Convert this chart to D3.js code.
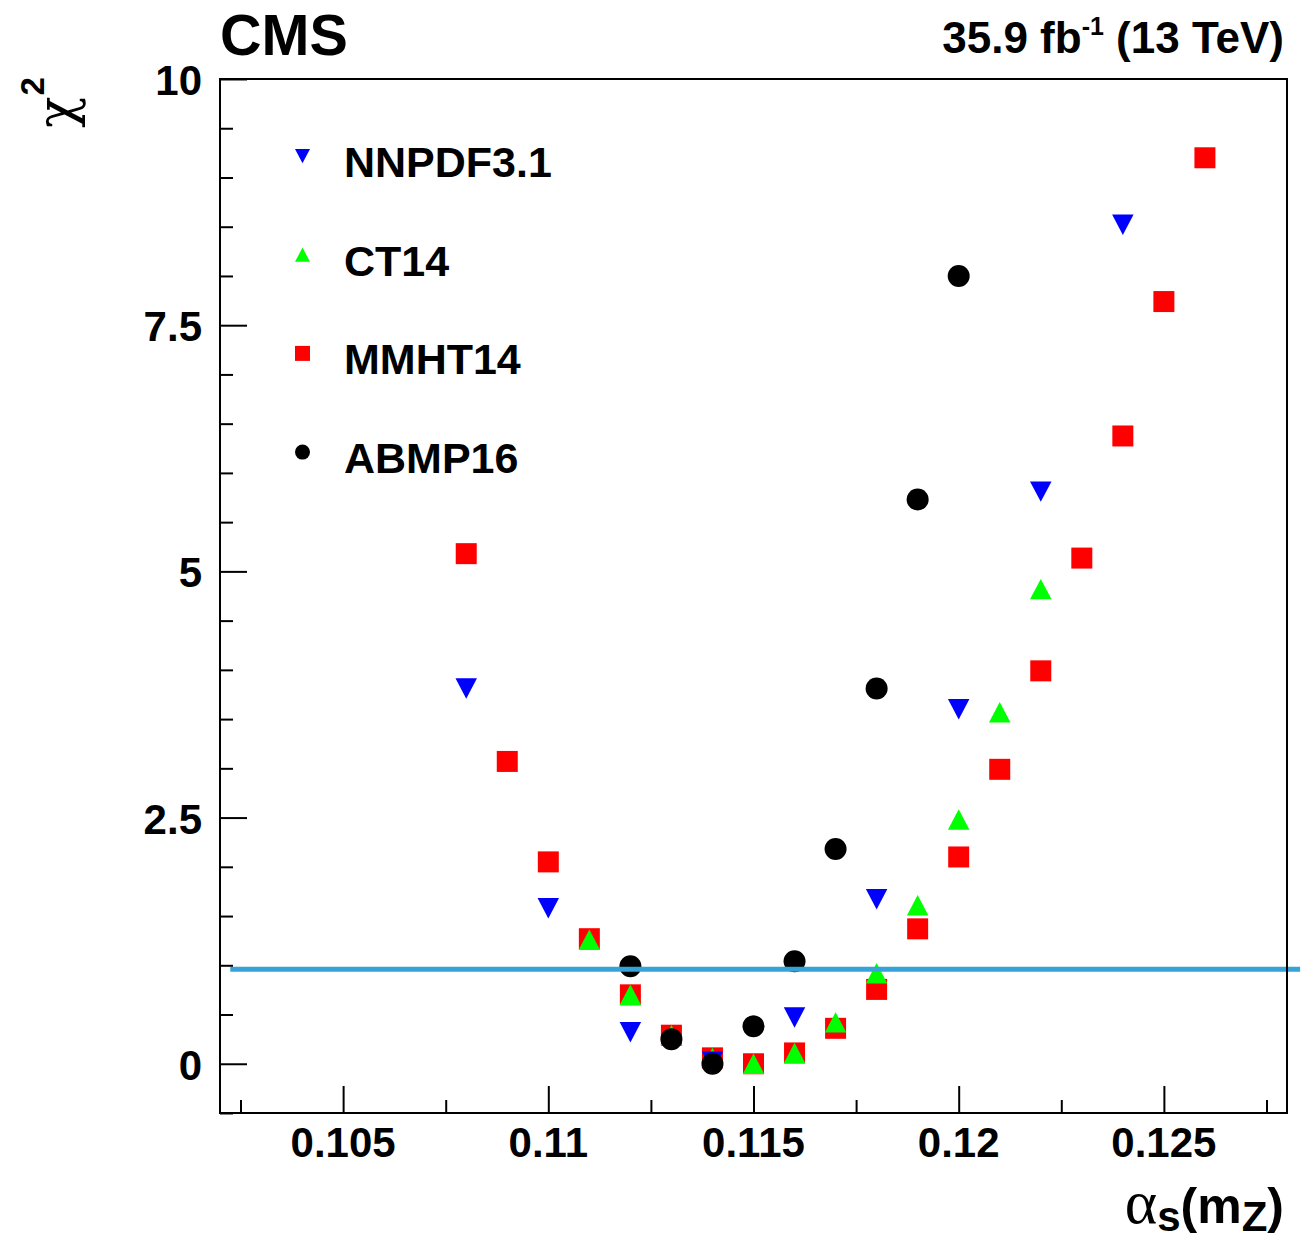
<!DOCTYPE html>
<html>
<head>
<meta charset="utf-8">
<script src="https://cdn.jsdelivr.net/npm/d3@7"></script>
<style>
  html, body { margin: 0; padding: 0; background: #fff; }
  svg { display: block; }
  text { font-family: "Liberation Sans", Arial, Helvetica, sans-serif; font-weight: bold; fill: #000; }
</style>
</head>
<body>
<svg id="chart" width="1309" height="1241"></svg>
<script>
// alpha_s(m_Z) scan points and chi^2 for each PDF set
const nnpdfAlpha = [0.108, 0.110, 0.112, 0.114, 0.116, 0.118, 0.120, 0.122, 0.124];
const nnpdfChi2  = [3.81, 1.58, 0.32, 0.02, 0.47, 1.67, 3.60, 5.81, 8.52];

const ct14Alpha = [0.111, 0.112, 0.113, 0.114, 0.115, 0.116, 0.117, 0.118, 0.119, 0.120, 0.121, 0.122];
const ct14Chi2  = [1.26, 0.70, 0.29, 0.06, 0.00, 0.11, 0.42, 0.92, 1.61, 2.48, 3.57, 4.82];

const mmhtAlpha = [0.108, 0.109, 0.110, 0.111, 0.112, 0.113, 0.114, 0.115, 0.116, 0.117,
                   0.118, 0.119, 0.120, 0.121, 0.122, 0.123, 0.124, 0.125, 0.126];
const mmhtChi2  = [5.18, 3.07, 2.05, 1.27, 0.70, 0.29, 0.06, 0.00, 0.11, 0.36,
                   0.755, 1.37, 2.10, 2.99, 3.99, 5.135, 6.375, 7.74, 9.20];

const abmpAlpha = [0.112, 0.113, 0.114, 0.115, 0.116, 0.117, 0.118, 0.119, 0.120];
const abmpChi2  = [0.99, 0.25, 0.00, 0.38, 1.04, 2.18, 3.81, 5.73, 8.00];

// reference level drawn across the plot
const refLevel = 0.96;
const refFrom = 0.10225, refTo = 0.12832;

// axis ranges and tick labels
const xDomain = [0.102, 0.128];
const yDomain = [-0.5, 10];
const xMajorTicks = [0.105, 0.110, 0.115, 0.120, 0.125];
const xTickLabels = ["0.105", "0.11", "0.115", "0.12", "0.125"];
const xMinorTicks = [0.1025, 0.1075, 0.1125, 0.1175, 0.1225, 0.1275];
const yMajorTicks = [0, 2.5, 5, 7.5, 10];
const yTickLabels = ["0", "2.5", "5", "7.5", "10"];
const yMinorTicks = [0.5, 1, 1.5, 2, 3, 3.5, 4, 4.5, 5.5, 6, 6.5, 7, 8, 8.5, 9, 9.5, -0.5];

const legendNames = ["NNPDF3.1", "CT14", "MMHT14", "ABMP16"];

// ---------------------------------------------------------------
const svg = d3.select("#chart");
const frame = { left: 220, right: 1287, top: 79, bottom: 1113 };

const x = d3.scaleLinear().domain(xDomain).range([frame.left, frame.right]);
const y = d3.scaleLinear().domain(yDomain).range([frame.bottom, frame.top]);

// marker shapes, centred on their bounding box
const triDown = {
  draw(ctx, size) {
    const w = Math.sqrt(size), h = w * 0.95;
    ctx.moveTo(-w / 2, -h / 2); ctx.lineTo(w / 2, -h / 2); ctx.lineTo(0, h / 2); ctx.closePath();
  }
};
const triUp = {
  draw(ctx, size) {
    const w = Math.sqrt(size), h = w * 0.95;
    ctx.moveTo(-w / 2, h / 2); ctx.lineTo(w / 2, h / 2); ctx.lineTo(0, -h / 2); ctx.closePath();
  }
};
const square = {
  draw(ctx, size) {
    const w = Math.sqrt(size);
    ctx.rect(-w / 2, -w / 2, w, w);
  }
};
const circle = {
  draw(ctx, size) {
    const r = Math.sqrt(size) / 2;
    ctx.moveTo(r, 0); ctx.arc(0, 0, r, 0, 2 * Math.PI);
  }
};

const series = [
  { name: legendNames[2], a: mmhtAlpha,  c: mmhtChi2,  type: square,  color: "#ff0000", size: 21 },
  { name: legendNames[1], a: ct14Alpha,  c: ct14Chi2,  type: triUp,   color: "#00ff00", size: 21.5 },
  { name: legendNames[0], a: nnpdfAlpha, c: nnpdfChi2, type: triDown, color: "#0000ff", size: 21.5 },
  { name: legendNames[3], a: abmpAlpha,  c: abmpChi2,  type: circle,  color: "#000000", size: 22 }
];

// data points
series.forEach(s => {
  const pts = s.a.map((a, i) => ({ a, c: s.c[i] }));
  svg.append("g").selectAll("path").data(pts).join("path")
    .attr("transform", d => `translate(${x(d.a)},${y(d.c)})`)
    .attr("d", d3.symbol().type(s.type).size(s.size * s.size)())
    .attr("fill", s.color);
});

// horizontal reference line
svg.append("line")
  .attr("x1", x(refFrom)).attr("x2", x(refTo))
  .attr("y1", y(refLevel)).attr("y2", y(refLevel))
  .attr("stroke", "#35a3d8").attr("stroke-width", 5);

// frame
svg.append("rect")
  .attr("x", frame.left).attr("y", frame.top)
  .attr("width", frame.right - frame.left).attr("height", frame.bottom - frame.top)
  .attr("fill", "none").attr("stroke", "#000").attr("stroke-width", 2);

// y axis
const yAxisMajor = d3.axisRight(y).tickValues(yMajorTicks).tickSize(27).tickFormat("");
const yAxisMinor = d3.axisRight(y).tickValues(yMinorTicks).tickSize(13).tickFormat("");
[yAxisMajor, yAxisMinor].forEach(ax => {
  const g = svg.append("g").attr("transform", `translate(${frame.left},0)`).call(ax);
  g.select(".domain").remove();
  g.selectAll("line").attr("stroke", "#000").attr("stroke-width", 2);
});
svg.append("g").selectAll("text").data(yMajorTicks).join("text")
  .attr("x", 202).attr("y", d => y(d) + 16)
  .attr("text-anchor", "end").attr("font-size", 42)
  .text((d, i) => yTickLabels[i]);

// x axis
const xAxisMajor = d3.axisTop(x).tickValues(xMajorTicks).tickSize(27).tickFormat("");
const xAxisMinor = d3.axisTop(x).tickValues(xMinorTicks).tickSize(13).tickFormat("");
[xAxisMajor, xAxisMinor].forEach(ax => {
  const g = svg.append("g").attr("transform", `translate(0,${frame.bottom})`).call(ax);
  g.select(".domain").remove();
  g.selectAll("line").attr("stroke", "#000").attr("stroke-width", 2);
});
svg.append("g").selectAll("text").data(xMajorTicks).join("text")
  .attr("x", d => x(d)).attr("y", 1157)
  .attr("text-anchor", "middle").attr("font-size", 42)
  .text((d, i) => xTickLabels[i]);

// axis titles
const xt = svg.append("text").attr("x", 1284).attr("y", 1223).attr("text-anchor", "end").attr("font-size", 50);
xt.append("tspan").attr("font-family", "'Liberation Serif', 'Times New Roman', serif").attr("font-weight", "normal").attr("font-size", 62).text("α");
xt.append("tspan").attr("font-size", 42).attr("dy", 8).text("s");
xt.append("tspan").attr("dy", -8).text("(m");
xt.append("tspan").attr("font-size", 42).attr("dy", 8).text("Z");
xt.append("tspan").attr("dy", -8).text(")");

const yt = svg.append("text").attr("transform", "translate(74,128) rotate(-90)");
yt.append("tspan").attr("font-family", "'DejaVu Serif', 'Liberation Serif', serif").attr("font-weight", "normal").attr("font-size", 52).text("χ");
yt.append("tspan").attr("font-size", 33).attr("dy", -30).attr("dx", 1).text("2");

// header texts
svg.append("text").attr("x", 220).attr("y", 55).attr("font-size", 57.5).text("CMS");
const lumi = svg.append("text").attr("x", 1284).attr("y", 53).attr("text-anchor", "end").attr("font-size", 44);
lumi.append("tspan").text("35.9 fb");
lumi.append("tspan").attr("font-size", 25).attr("dy", -18).text("-1");
lumi.append("tspan").attr("dy", 18).text(" (13 TeV)");

// legend
const legendItems = [
  { name: legendNames[0], type: triDown, color: "#0000ff" },
  { name: legendNames[1], type: triUp,   color: "#00ff00" },
  { name: legendNames[2], type: square,  color: "#ff0000" },
  { name: legendNames[3], type: circle,  color: "#000000" }
];
const lg = svg.append("g").selectAll("g").data(legendItems).join("g")
  .attr("transform", (d, i) => `translate(0,${177 + i * 98.7})`);
lg.append("path")
  .attr("transform", "translate(302.5,-21)")
  .attr("d", d => d3.symbol().type(d.type).size(15 * 15)())
  .attr("fill", d => d.color);
lg.append("text").attr("x", 344).attr("y", 0).attr("font-size", 43).text(d => d.name);
</script>
</body>
</html>
